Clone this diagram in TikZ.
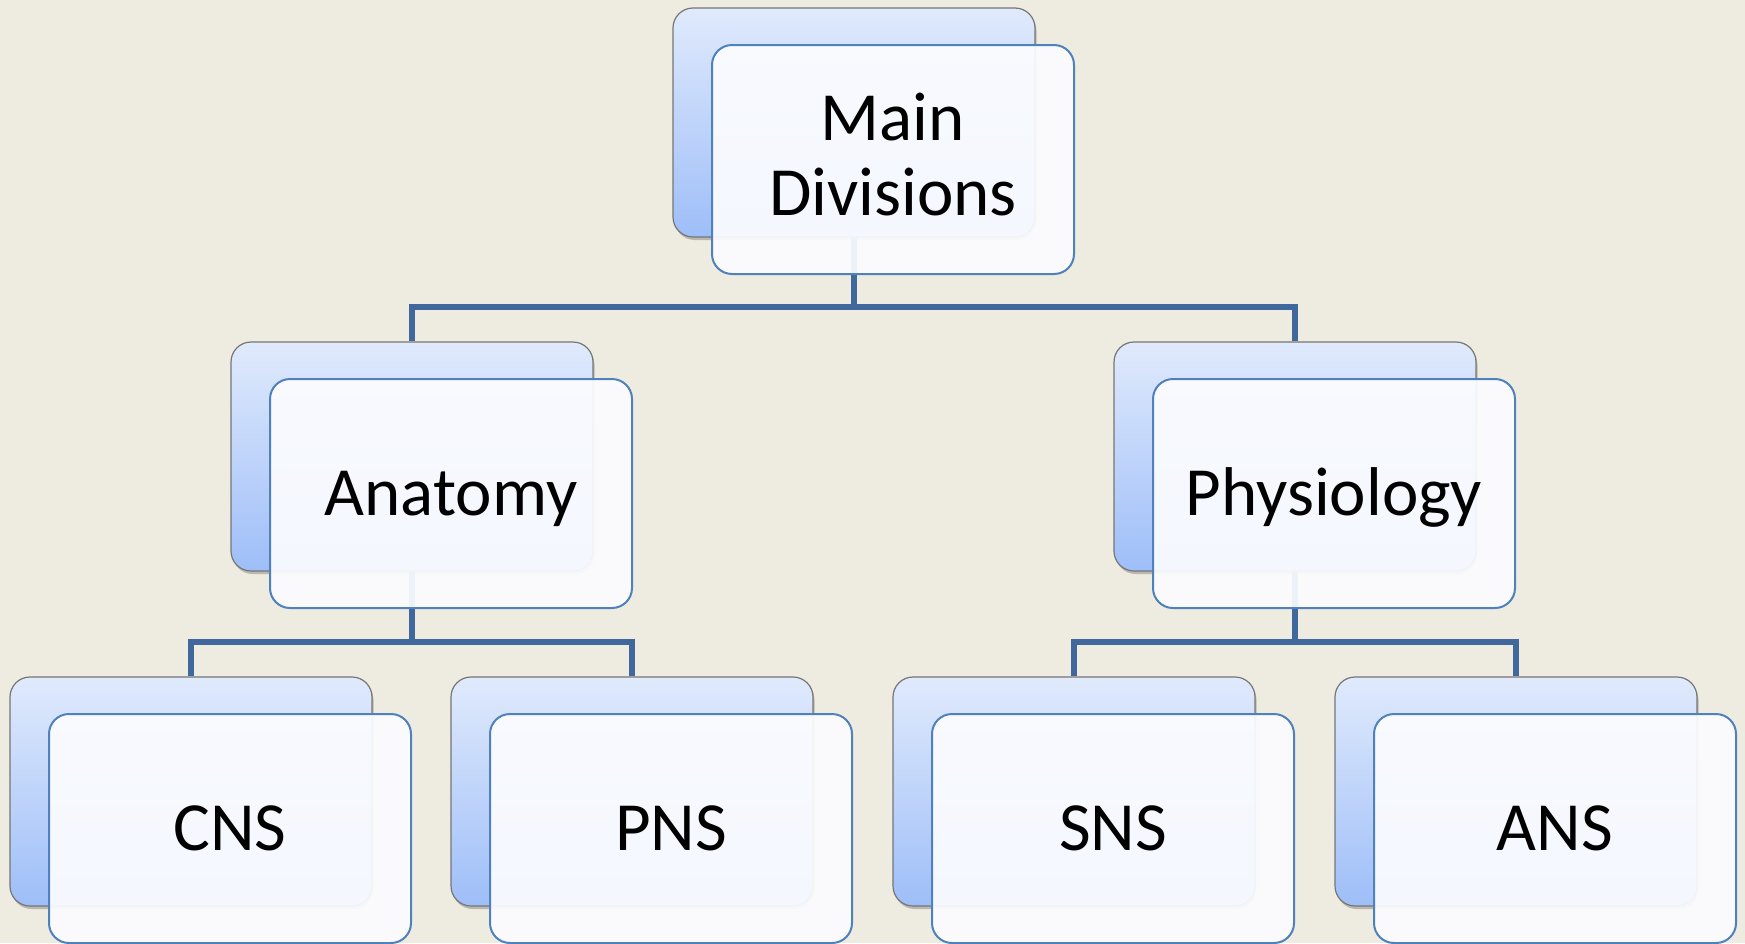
\documentclass[tikz,border=0pt]{standalone}
\usepackage{fontspec}
\setmainfont{Carlito}
\usetikzlibrary{shadows}

\definecolor{bgcol}{RGB}{238,235,224}
\definecolor{backtop}{RGB}{224,234,252}
\definecolor{backbot}{RGB}{158,190,248}
\definecolor{backedge}{RGB}{118,118,118}
\definecolor{frontedge}{RGB}{79,129,189}
\definecolor{frontfill}{RGB}{251,252,255}
\definecolor{linkcol}{RGB}{64,104,156}

\tikzset{
  backcard/.style={rectangle, rounded corners=20pt, minimum width=362pt,
    minimum height=229pt, inner sep=0pt, top color=backtop, bottom color=backbot,
    draw=backedge, line width=1.2pt,
    drop shadow={shadow xshift=1.5pt, shadow yshift=-3pt, opacity=0.22, fill=black}},
  frontcard/.style={rectangle, rounded corners=20pt, minimum width=362pt,
    minimum height=229pt, inner sep=0pt, fill=frontfill, fill opacity=0.93,
    text opacity=1, draw=frontedge, draw opacity=1, line width=2pt,
    font=\fontsize{69}{75}\selectfont, align=center},
  oneline/.style={text height=44pt, text depth=0pt},
  link/.style={draw=linkcol, line width=5.5pt}
}

\begin{document}
\begin{tikzpicture}[x=1pt, y=-1pt]
  % canvas
  \useasboundingbox (0,0) rectangle (1745,943);
  \fill[bgcol] (0,0) rectangle (1745,943);

  % horizontal bus levels
  \coordinate (busA) at (0,307);
  \coordinate (busB) at (0,642);

  % back cards
  \node[backcard] (mainB) at (854,122.5) {};
  \node[backcard] (anaB)  at (412,456.5) {};
  \node[backcard] (phyB)  at (1295,456.5) {};
  \node[backcard] (cnsB)  at (191,791.5) {};
  \node[backcard] (pnsB)  at (632,791.5) {};
  \node[backcard] (snsB)  at (1074,791.5) {};
  \node[backcard] (ansB)  at (1516,791.5) {};

  % tree connectors
  \draw[link] (mainB.south) -- (mainB.south |- busA) -| (anaB.north);
  \draw[link] (mainB.south |- busA) -| (phyB.north);
  \draw[link] (anaB.south) -- (anaB.south |- busB) -| (cnsB.north);
  \draw[link] (anaB.south |- busB) -| (pnsB.north);
  \draw[link] (phyB.south) -- (phyB.south |- busB) -| (snsB.north);
  \draw[link] (phyB.south |- busB) -| (ansB.north);

  % front cards with labels
  \node[frontcard, text depth=10pt] (main) at (893,159.5) {Main\\Divisions};
  \node[frontcard, oneline] (ana) at (451,493.5) {Anatomy};
  \node[frontcard, oneline] (phy) at (1334,493.5) {Physiology};
  \node[frontcard, oneline] (cns) at (230,828.5) {CNS};
  \node[frontcard, oneline] (pns) at (671,828.5) {PNS};
  \node[frontcard, oneline] (sns) at (1113,828.5) {SNS};
  \node[frontcard, oneline] (ans) at (1555,828.5) {ANS};
\end{tikzpicture}
\end{document}
